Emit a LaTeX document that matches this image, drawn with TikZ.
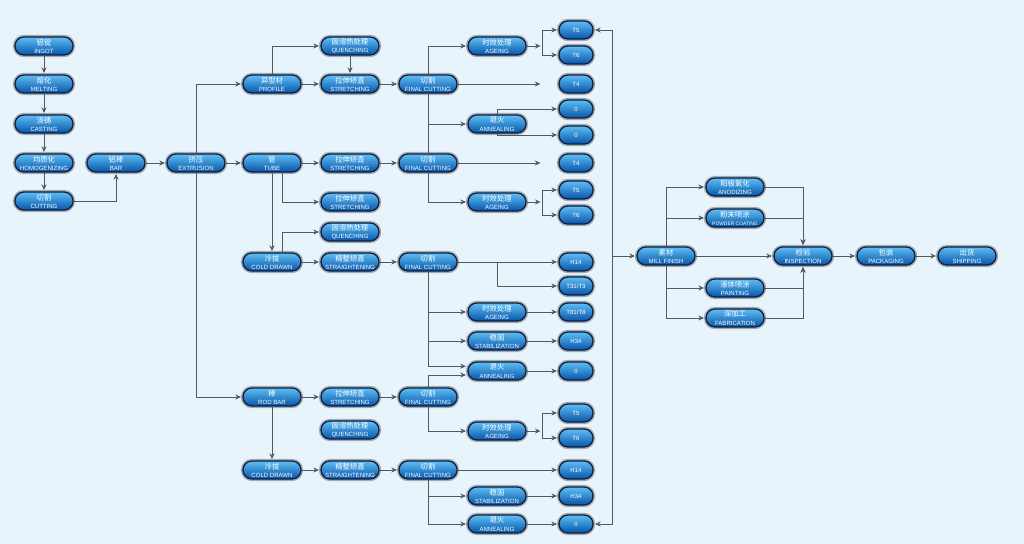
\documentclass[tikz,border=0pt]{standalone}
\usepackage{fontspec}
\setmainfont{Liberation Sans}
\newfontfamily\cjk{Noto Sans CJK SC}
\newcommand\zh{\cjk\fontsize{5.2}{5.6}\selectfont}
\usetikzlibrary{arrows.meta,positioning}
\definecolor{bg}{RGB}{232,244,251}
\definecolor{pilltop}{RGB}{95,190,245}
\definecolor{pillbot}{RGB}{6,84,168}
\definecolor{navy}{RGB}{12,30,64}
\definecolor{rim}{RGB}{165,170,176}
\definecolor{wire}{RGB}{85,88,92}

\begin{document}
\begin{tikzpicture}[x=.025cm,y=-.025cm,
proc/.style={draw=navy,line width=.9pt,preaction={draw=rim,line width=3pt},rounded corners=.22cm,
  top color=pilltop,bottom color=pillbot,minimum width=1.45cm,minimum height=.45cm,inner sep=0pt,
  align=center,text=white,font=\fontsize{4.3}{5.7}\selectfont},
res/.style={proc,minimum width=.85cm},
arr/.style={-{Stealth[length=4pt,width=3.6pt]},line width=.7pt,draw=wire,shorten >=1pt}]
\fill[bg](0,0)rectangle(1024,544);
% casting
\node[proc] at (44,46)(ingot){{\zh 铝锭}\\INGOT};
\node[proc] at (44,84)(melt){{\zh 熔化}\\MELTING};
\node[proc] at (44,124)(cast){{\zh 浇铸}\\CASTING};
\node[proc] at (44,163)(homog){{\zh 均质化}\\HOMOGENIZING};
\node[proc] at (44,201)(cut){{\zh 切割}\\CUTTING};
\node[proc] at (116,163)(bar){{\zh 铝棒}\\BAR};
\node[proc] at (196,163)(extr){{\zh 挤压}\\EXTRUSION};
% products
\node[proc] at (272,84)(prof){{\zh 异型材}\\PROFILE};
\node[proc] at (272,163)(tube){{\zh 管}\\TUBE};
\node[proc] at (272,262)(cdt){{\zh 冷拔}\\COLD DRAWN};
\node[proc] at (272,397)(rod){{\zh 棒}\\ROD BAR};
\node[proc] at (272,470)(cdr){{\zh 冷拔}\\COLD DRAWN};
\node[proc] at (350,46)(qp){{\zh 固溶热处理}\\QUENCHING};
\node[proc] at (350,84)(sp){{\zh 拉伸矫直}\\STRETCHING};
\node[proc] at (350,163)(st1){{\zh 拉伸矫直}\\STRETCHING};
\node[proc] at (350,202)(st2){{\zh 拉伸矫直}\\STRETCHING};
\node[proc] at (350,232)(qt){{\zh 固溶热处理}\\QUENCHING};
\node[proc] at (350,262)(strt){{\zh 精整矫直}\\STRAIGHTENING};
\node[proc] at (350,397)(sr){{\zh 拉伸矫直}\\STRETCHING};
\node[proc] at (350,430)(qr){{\zh 固溶热处理}\\QUENCHING};
\node[proc] at (350,470)(strr){{\zh 精整矫直}\\STRAIGHTENING};
\node[proc] at (428,84)(fc1){{\zh 切割}\\FINAL CUTTING};
\node[proc] at (428,163)(fc2){{\zh 切割}\\FINAL CUTTING};
\node[proc] at (428,262)(fc3){{\zh 切割}\\FINAL CUTTING};
\node[proc] at (428,397)(fc4){{\zh 切割}\\FINAL CUTTING};
\node[proc] at (428,470)(fc5){{\zh 切割}\\FINAL CUTTING};
% treatments
\node[proc] at (497,46)(age1){{\zh 时效处理}\\AGEING};
\node[proc] at (497,124)(ann1){{\zh 退火}\\ANNEALING};
\node[proc] at (497,202)(age2){{\zh 时效处理}\\AGEING};
\node[proc] at (497,312)(age3){{\zh 时效处理}\\AGEING};
\node[proc] at (497,341)(stab3){{\zh 稳固}\\STABILIZATION};
\node[proc] at (497,371)(ann3){{\zh 退火}\\ANNEALING};
\node[proc] at (497,431)(age4){{\zh 时效处理}\\AGEING};
\node[proc] at (497,496)(stab5){{\zh 稳固}\\STABILIZATION};
\node[proc] at (497,524)(ann5){{\zh 退火}\\ANNEALING};
% tempers
\node[res] at (576,30)(t5a){T5};
\node[res] at (576,55)(t6a){T6};
\node[res] at (576,84)(t4a){T4};
\node[res] at (576,109)(o1){0};
\node[res] at (576,135)(o2){0};
\node[res] at (576,163)(t4b){T4};
\node[res] at (576,190)(t5b){T5};
\node[res] at (576,215)(t6b){T6};
\node[res] at (576,262)(h14a){H14};
\node[res] at (576,286)(t31){T31/T3};
\node[res] at (576,312)(t81){T81/T8};
\node[res] at (576,341)(h34a){H34};
\node[res] at (576,371)(o3){0};
\node[res] at (576,413)(t5c){T5};
\node[res] at (576,438)(t6c){T6};
\node[res] at (576,470)(h14b){H14};
\node[res] at (576,496)(h34b){H34};
\node[res] at (576,524)(o4){0};
% finishing
\node[proc] at (666,256)(mill){{\zh 素材}\\MILL FINISH};
\node[proc] at (735,187)(anod){{\zh 阳极氧化}\\ANODIZING};
\node[proc] at (735,218)(powd){{\zh 粉末喷涂}\\{\fontsize{3.5}{5.7}\selectfont POWDER COATING}};
\node[proc] at (735,288)(paint){{\zh 液体喷涂}\\PAINTING};
\node[proc] at (735,318)(fab){{\zh 深加工}\\FABRICATION};
\node[proc] at (803,256)(insp){{\zh 检验}\\INSPECTION};
\node[proc] at (886,256)(pack){{\zh 包装}\\PACKAGING};
\node[proc] at (967,256)(ship){{\zh 出货}\\SHIPPING};
\coordinate (sp1) at (542,46);\coordinate (sp2) at (542,202);\coordinate (sp3) at (497,262);
\coordinate (sp4) at (542,431);\coordinate (bus) at (612,256);
% connectors
\draw[arr](ingot)--(melt);\draw[arr](melt)--(cast);\draw[arr](cast)--(homog);\draw[arr](homog)--(cut);
\draw[arr](cut)-|(bar);\draw[arr](bar)--(extr);
\draw[arr](extr)|-(prof);\draw[arr](extr)--(tube);\draw[arr](extr)|-(rod);
\draw[arr](prof)|-(qp);\draw[arr](qp)--(sp);\draw[arr](prof)--(sp);\draw[arr](sp)--(fc1);
\draw[arr](tube)--(st1);\draw[arr](st1)--(fc2);\draw[arr]([xshift=.25cm]tube.south)|-(st2);
\draw[arr](tube)--(cdt);\draw[arr]([xshift=.25cm]cdt.north)|-(qt);
\draw[arr](cdt)--(strt);\draw[arr](strt)--(fc3);
\draw[arr](rod)--(sr);\draw[arr](sr)--(fc4);\draw[arr](rod)--(cdr);
\draw[arr](cdr)--(strr);\draw[arr](strr)--(fc5);
\draw[arr](fc1)|-(age1);\draw[arr,shorten >=.45cm](fc1)--(t4a);\draw[arr](fc1)|-(ann1);\draw[draw=wire,line width=.7pt](fc2)--(fc1);
\draw[arr](age1)--(sp1);\draw[arr](sp1)|-(t5a);\draw[arr](sp1)|-(t6a);
\draw[arr](ann1.north)|-(o1);\draw[arr](ann1.south)|-(o2);
\draw[arr,shorten >=.45cm](fc2)--(t4b);\draw[arr](fc2)|-(age2);
\draw[arr](age2)--(sp2);\draw[arr](sp2)|-(t5b);\draw[arr](sp2)|-(t6b);
\draw[arr](fc3)--(h14a);\draw[arr](sp3)|-(t31);
\draw[arr](fc3)|-(age3);\draw[arr](fc3)|-(stab3);\draw[arr](fc3)|-([yshift=.12cm]ann3.west);
\draw[arr](age3)--(t81);\draw[arr](stab3)--(h34a);\draw[arr](ann3)--(o3);
\draw[arr](fc4)|-([yshift=-.1cm]ann3.west);\draw[arr](fc4)|-(age4);
\draw[arr](age4)--(sp4);\draw[arr](sp4)|-(t5c);\draw[arr](sp4)|-(t6c);
\draw[arr](fc5)--(h14b);\draw[arr](fc5)|-(stab5);\draw[arr](fc5)|-(ann5);
\draw[arr](stab5)--(h34b);\draw[arr](ann5)--(o4);
\draw[arr](bus)|-(t5a);\draw[arr](bus)|-(o4);\draw[arr](bus)--(mill);
\draw[arr](mill)|-(anod);\draw[arr](mill)|-(powd);\draw[arr](mill)|-(paint);\draw[arr](mill)|-(fab);
\draw[arr](mill)--(insp);
\draw[arr](anod)-|(insp);\draw[arr](powd)-|(insp);\draw[arr](paint)-|(insp);\draw[arr](fab)-|(insp);
\draw[arr](insp)--(pack);\draw[arr](pack)--(ship);
\end{tikzpicture}
\end{document}
